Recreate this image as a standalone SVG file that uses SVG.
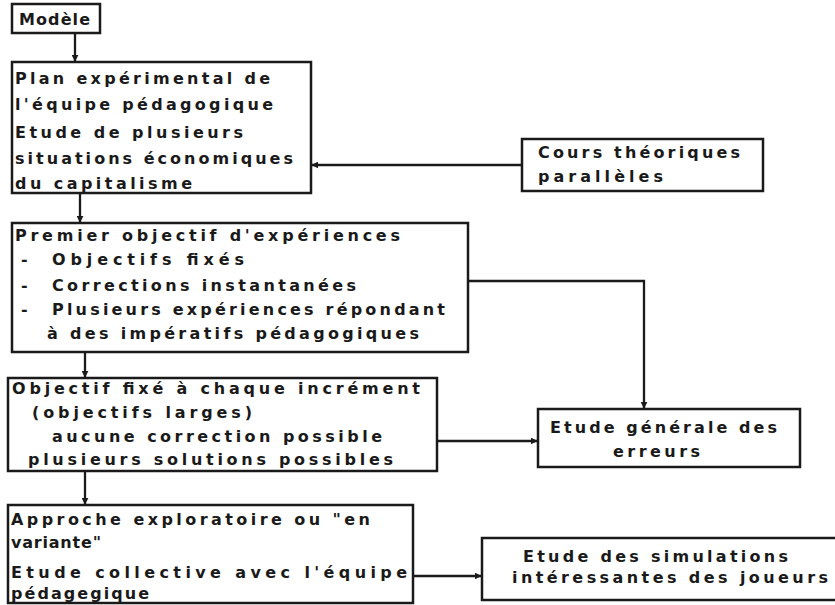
<svg xmlns="http://www.w3.org/2000/svg" width="835" height="605" viewBox="0 0 835 605">
<defs>
<marker id="ah" viewBox="0 0 10 10" refX="9" refY="5" markerWidth="7" markerHeight="7" markerUnits="userSpaceOnUse" orient="auto">
<path d="M0,0 L10,5 L0,10 z" fill="#1a1a1a"/>
</marker>
<style>
.box{fill:none;stroke:#1a1a1a;stroke-width:2.5}
.t{font-family:"DejaVu Sans","Liberation Sans",sans-serif;font-weight:bold;font-size:16px;fill:#1a1a1a}
.c{fill:none;stroke:#1a1a1a;stroke-width:2.3;marker-end:url(#ah)}
</style>
</defs>
<rect width="835" height="605" fill="#ffffff"/>
<g id="connectors">
<path class="c" d="M75,33 V61"/>
<path class="c" d="M80,193 V222"/>
<path class="c" d="M85,352 V377"/>
<path class="c" d="M85,471 V504"/>
<path class="c" d="M522,165 H312"/>
<path class="c" d="M468,281 H644 V408"/>
<path class="c" d="M437,441 H537"/>
<path class="c" d="M413,576 H481"/>
</g>
<g id="modele">
<rect class="box" x="12" y="4" width="88" height="29"/>
<text class="t" x="19" y="25" textLength="71" lengthAdjust="spacing">Modèle</text>
</g>
<g id="plan">
<rect class="box" x="12" y="62" width="299" height="131"/>
<text class="t" x="15" y="84" textLength="255" lengthAdjust="spacing">Plan expérimental de</text>
<text class="t" x="15" y="110" textLength="258" lengthAdjust="spacing">l'équipe pédagogique</text>
<text class="t" x="15" y="138" textLength="228" lengthAdjust="spacing">Etude de plusieurs</text>
<text class="t" x="15" y="164" textLength="278" lengthAdjust="spacing">situations économiques</text>
<text class="t" x="15" y="189" textLength="177" lengthAdjust="spacing">du capitalisme</text>
</g>
<g id="premier">
<rect class="box" x="12" y="223" width="456" height="129"/>
<text class="t" x="15" y="241" textLength="385" lengthAdjust="spacing">Premier objectif d'expériences</text>
<text class="t" x="21" y="265">-</text><text class="t" x="52" y="265" textLength="192" lengthAdjust="spacing">Objectifs fixés</text>
<text class="t" x="21" y="291">-</text><text class="t" x="52" y="291" textLength="304" lengthAdjust="spacing">Corrections instantanées</text>
<text class="t" x="21" y="315">-</text><text class="t" x="52" y="315" textLength="393" lengthAdjust="spacing">Plusieurs expériences répondant</text>
<text class="t" x="47" y="339" textLength="372" lengthAdjust="spacing">à des impératifs pédagogiques</text>
</g>
<g id="objectif">
<rect class="box" x="8" y="378" width="429" height="93"/>
<text class="t" x="12" y="394" textLength="408" lengthAdjust="spacing">Objectif fixé à chaque incrément</text>
<text class="t" x="32" y="418" textLength="220" lengthAdjust="spacing">(objectifs larges)</text>
<text class="t" x="52" y="442" textLength="330" lengthAdjust="spacing">aucune correction possible</text>
<text class="t" x="28" y="465" textLength="365" lengthAdjust="spacing">plusieurs solutions possibles</text>
</g>
<g id="approche">
<rect class="box" x="8" y="505" width="405" height="98"/>
<text class="t" x="11" y="525" textLength="359" lengthAdjust="spacing">Approche exploratoire ou "en</text>
<text class="t" x="11" y="548" textLength="90" lengthAdjust="spacing">variante"</text>
<text class="t" x="11" y="578" textLength="396" lengthAdjust="spacing">Etude collective avec l'équipe</text>
<text class="t" x="11" y="599" textLength="138" lengthAdjust="spacing">pédagegique</text>
</g>
<g id="cours">
<rect class="box" x="522" y="139" width="241" height="52"/>
<text class="t" x="538" y="158" textLength="202" lengthAdjust="spacing">Cours théoriques</text>
<text class="t" x="538" y="182" textLength="125" lengthAdjust="spacing">parallèles</text>
</g>
<g id="erreurs">
<rect class="box" x="538" y="409" width="262" height="58"/>
<text class="t" x="550" y="433" textLength="227" lengthAdjust="spacing">Etude générale des</text>
<text class="t" x="613" y="457" textLength="87" lengthAdjust="spacing">erreurs</text>
</g>
<g id="simulations">
<rect class="box" x="482" y="538" width="360" height="62"/>
<text class="t" x="523" y="562" textLength="265" lengthAdjust="spacing">Etude des simulations</text>
<text class="t" x="512" y="583" textLength="316" lengthAdjust="spacing">intéressantes des joueurs</text>
</g>
</svg>
